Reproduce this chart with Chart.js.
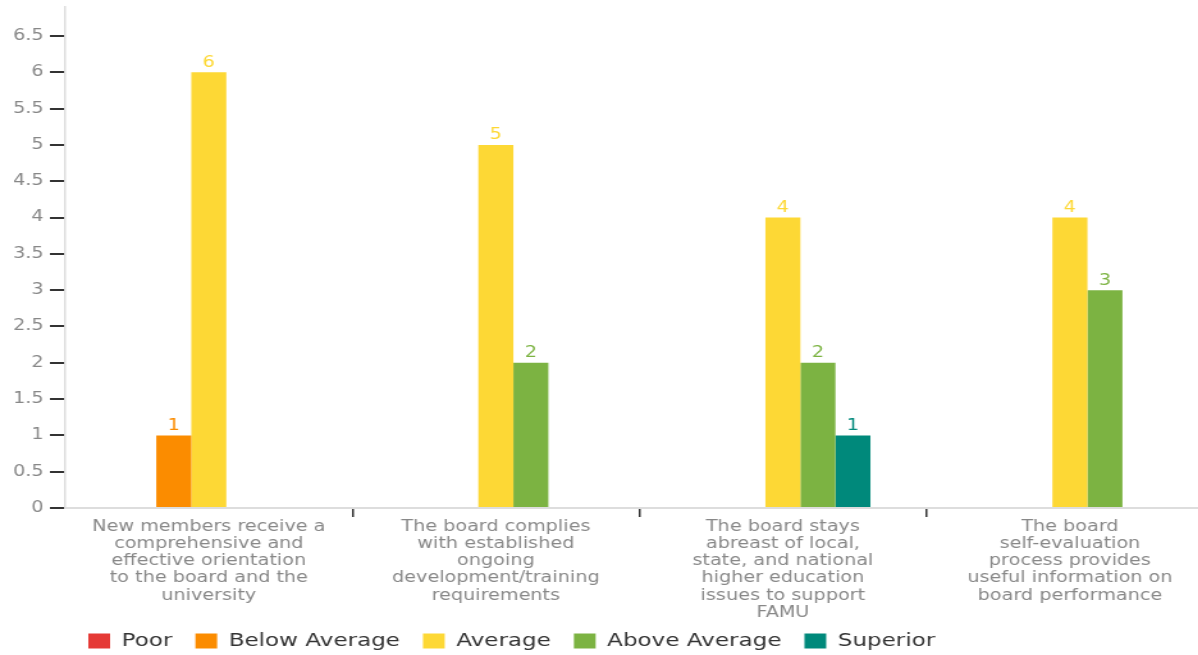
<!DOCTYPE html>
<html>
<head>
<meta charset="utf-8">
<script src="https://cdn.jsdelivr.net/npm/chart.js@4"></script>
<style>
  html, body { margin: 0; padding: 0; background: #fff; overflow: hidden; }
  /* the reference is stretched horizontally, so the chart is drawn narrower and scaled */
  #wrap { width: 948px; height: 676px; margin-top: -7px; transform: scaleX(1.28); transform-origin: 0 0; }
</style>
</head>
<body>
<div id="wrap"><canvas id="grafico"></canvas></div>
<script>
// categorias (etiquetas del eje X, ya partidas en lineas)
const categories = [
  ["New members receive a", "comprehensive and", "effective orientation", "to the board and the", "university"],
  ["The board complies", "with established", "ongoing", "development/training", "requirements"],
  ["The board stays", "abreast of local,", "state, and national", "higher education", "issues to support", "FAMU"],
  ["The board", "self-evaluation", "process provides", "useful information on", "board performance"]
];

// valores de cada serie
const poor = [0, 0, 0, 0];
const belowAverage = [1, 0, 0, 0];
const average = [6, 5, 4, 4];
const aboveAverage = [0, 2, 2, 3];
const superior = [0, 0, 1, 0];

const seriesNames = ["Poor", "Below Average", "Average", "Above Average", "Superior"];
const seriesColors = ["#e53935", "#fb8c00", "#fdd835", "#7cb342", "#00897b"];
const seriesValues = [poor, belowAverage, average, aboveAverage, superior];

// marcas del eje Y
const yTicks = [0, 0.5, 1, 1.5, 2, 2.5, 3, 3.5, 4, 4.5, 5, 5.5, 6, 6.5];

// plugin para escribir el valor encima de cada barra
const valueLabels = {
  id: "valueLabels",
  afterLayout(chart) {
    // subimos un poco la leyenda para que quede como en la imagen
    chart.legend.top -= 9;
    chart.legend.bottom -= 9;
  },
  afterDatasetsDraw(chart) {
    const ctx = chart.ctx;
    ctx.save();
    ctx.font = "15px 'DejaVu Sans'";
    ctx.textAlign = "center";
    ctx.textBaseline = "bottom";
    chart.data.datasets.forEach((ds, i) => {
      chart.getDatasetMeta(i).data.forEach((bar, j) => {
        const v = ds.data[j];
        if (!v) return;
        ctx.fillStyle = ds.backgroundColor;
        ctx.fillText(String(v), bar.x, bar.y - 2);
      });
    });
    ctx.restore();
  }
};

const miCanva = document.getElementById("grafico").getContext("2d");

new Chart(miCanva, {
  type: "bar",
  data: {
    labels: categories,
    datasets: seriesNames.map((name, i) => ({
      label: name,
      data: seriesValues[i],
      backgroundColor: seriesColors[i],
      borderWidth: 0
    }))
  },
  options: {
    responsive: true,
    maintainAspectRatio: false,
    animation: false,
    datasets: { bar: { categoryPercentage: 0.61, barPercentage: 1.0 } },
    layout: { padding: { top: 5, left: 0, right: 0, bottom: 0 } },
    plugins: {
      tooltip: { enabled: false },
      legend: {
        position: "bottom",
        align: "start",
        fullSize: false,
        labels: {
          boxWidth: 17,
          boxHeight: 15,
          padding: 18,
          color: "#333",
          font: { family: "'DejaVu Sans'", size: 18 }
        }
      }
    },
    scales: {
      x: {
        afterFit(scale) { scale.height = 115; },
        grid: {
          offset: true,
          drawOnChartArea: false,
          tickLength: 9,
          lineWidth: 1.5,
          tickColor: (c) => (c.index === 0 ? "rgba(0,0,0,0)" : "#333")
        },
        border: { color: "#ddd", width: 2 },
        ticks: {
          autoSkip: false,
          maxRotation: 0,
          padding: 1,
          color: "#888",
          font: { family: "'DejaVu Sans'", size: 15, lineHeight: 1.15 }
        }
      },
      y: {
        min: 0,
        max: 6.9,
        afterFit(scale) { scale.width = 51; },
        afterBuildTicks(scale) {
          scale.ticks = yTicks.map((v) => ({ value: v }));
        },
        grid: {
          drawOnChartArea: false,
          tickLength: 12,
          lineWidth: 2,
          tickColor: "#333"
        },
        border: { color: "#ddd", width: 1.5 },
        ticks: {
          padding: 5,
          color: "#888",
          font: { family: "'DejaVu Sans'", size: 15 },
          callback: (v) => String(v)
        }
      }
    }
  },
  plugins: [valueLabels]
});
</script>
</body>
</html>
